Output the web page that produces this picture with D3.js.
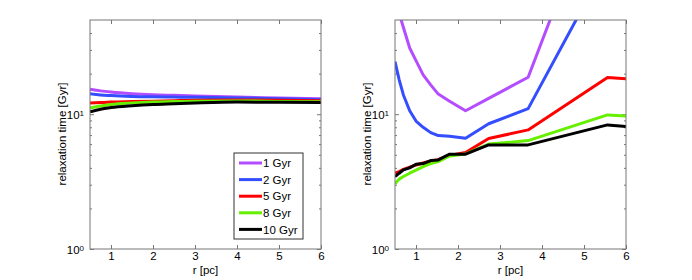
<!DOCTYPE html>
<html>
<head>
<meta charset="utf-8">
<script src="https://cdn.jsdelivr.net/npm/d3@7"></script>
<style>
  body { margin: 0; background: #fff; }
  text { font-family: "Liberation Sans", Arial, sans-serif; fill: #000; }
</style>
</head>
<body>
<div id="canvas"></div>
<script>
// series labels + colours (matlab-ish)
const ages = ["1 Gyr", "2 Gyr", "5 Gyr", "8 Gyr", "10 Gyr"];
const colors = ["#b34dff", "#334dff", "#ff0000", "#66f000", "#000000"];

// left panel: smooth curves
const rLeft = [0.5, 0.75, 1, 1.5, 2, 2.5, 3, 4, 5, 6];
const left1 = [15.3, 14.9, 14.6, 14.2, 13.95, 13.8, 13.65, 13.4, 13.2, 13.0];
const left2 = [14.2, 13.9, 13.75, 13.55, 13.45, 13.4, 13.35, 13.2, 13.0, 12.8];
const left5 = [12.1, 12.2, 12.3, 12.4, 12.5, 12.6, 12.7, 12.75, 12.7, 12.6];
const left8 = [11.1, 11.5, 11.8, 12.1, 12.3, 12.4, 12.5, 12.55, 12.45, 12.35];
const left10 = [10.4, 10.9, 11.2, 11.55, 11.8, 11.95, 12.1, 12.3, 12.25, 12.2];

// right panel: piecewise
const rRight = [0.5, 0.6, 0.7, 0.85, 1.0, 1.17, 1.35, 1.53, 1.8, 2.18, 2.73, 3.67, 5.56, 6.0];
const right1 = [80, 56, 44, 31, 25, 19.6, 16.5, 14.1, 12.5, 10.6, 13.1, 18.8, 650, 900];
const right2 = [24.6, 18, 13.9, 10.6, 8.9, 8.0, 7.3, 6.94, 6.85, 6.63, 8.5, 11.0, 135, 200];
const right5 = [3.65, 3.75, 3.9, 4.05, 4.2, 4.35, 4.5, 4.6, 4.95, 5.2, 6.6, 7.65, 18.7, 18.3];
const right8 = [3.05, 3.3, 3.45, 3.65, 3.85, 4.08, 4.3, 4.45, 4.9, 5.07, 6.0, 6.37, 9.88, 9.71];
const right10 = [3.44, 3.65, 3.86, 4.0, 4.25, 4.3, 4.53, 4.58, 5.05, 5.05, 5.92, 5.92, 8.33, 8.09];

const xTicks = [1, 2, 3, 4, 5, 6];
const yMajor = [1, 10];
const yMinor = [2, 3, 4, 5, 6, 7, 8, 9, 20, 30, 40];

const width = 692;
const height = 280;
const plotTop = 20, plotBottom = 249, pw = 231;
const fontSize = "11.5px";

const svg = d3.select("#canvas").append("svg")
  .attr("width", width)
  .attr("height", height);

const y = d3.scaleLog().domain([1, 50]).range([plotBottom, plotTop]);

function drawPanel(id, left, rs, series, curve) {
  const x = d3.scaleLinear().domain([0.5, 6]).range([left, left + pw]);
  const g = svg.append("g");

  g.append("clipPath").attr("id", id)
    .append("rect")
    .attr("x", left).attr("y", plotTop)
    .attr("width", pw).attr("height", plotBottom - plotTop);

  // ticks on all four sides, pointing in
  const axisColor = "#777";
  const xb = g.append("g")
    .attr("transform", `translate(0,${plotBottom})`)
    .call(d3.axisBottom(x).tickValues(xTicks).tickFormat(d3.format("d"))
      .tickSizeInner(-4).tickSizeOuter(0).tickPadding(3));
  xb.selectAll("text").style("font-size", fontSize).style("font-family", "Liberation Sans, Arial");
  g.append("g")
    .attr("transform", `translate(0,${plotTop})`)
    .call(d3.axisTop(x).tickValues(xTicks).tickSizeInner(-4).tickSizeOuter(0).tickFormat(""));

  const yl = g.append("g")
    .attr("transform", `translate(${left},0)`)
    .call(d3.axisLeft(y).tickValues(yMajor).tickSizeInner(-4).tickSizeOuter(0).tickFormat(""));
  g.append("g")
    .attr("transform", `translate(${left},0)`)
    .call(d3.axisLeft(y).tickValues(yMinor).tickSizeInner(-2).tickSizeOuter(0).tickFormat(""));
  g.append("g")
    .attr("transform", `translate(${left + pw},0)`)
    .call(d3.axisRight(y).tickValues(yMajor).tickSizeInner(-4).tickSizeOuter(0).tickFormat(""));
  g.append("g")
    .attr("transform", `translate(${left + pw},0)`)
    .call(d3.axisRight(y).tickValues(yMinor).tickSizeInner(-2).tickSizeOuter(0).tickFormat(""));

  g.selectAll(".domain").remove();
  g.selectAll(".tick line").attr("stroke", axisColor);

  // 10^n labels
  yl.selectAll(".tick text").each(function (d) {
    const t = d3.select(this)
      .attr("x", -6)
      .attr("dy", "0.4em")
      .style("font-size", fontSize)
      .style("font-family", "Liberation Sans, Arial");
    t.append("tspan").text("10");
    t.append("tspan").attr("dy", "-0.45em").style("font-size", "8px").text(Math.round(Math.log10(d)));
  });

  const line = d3.line()
    .x((d, i) => x(rs[i]))
    .y(d => y(d))
    .curve(curve);

  g.append("g")
    .attr("clip-path", `url(#${id})`)
    .selectAll("path")
    .data(series)
    .enter()
    .append("path")
    .attr("d", d => line(d))
    .attr("fill", "none")
    .attr("stroke", (d, i) => colors[i])
    .attr("stroke-width", 3)
    .attr("stroke-linejoin", "round");

  g.append("rect")
    .attr("x", left).attr("y", plotTop)
    .attr("width", pw).attr("height", plotBottom - plotTop)
    .attr("fill", "none")
    .attr("stroke", axisColor)
    .attr("stroke-width", 1);

  g.append("text")
    .attr("x", left + pw / 2)
    .attr("y", 274)
    .attr("text-anchor", "middle")
    .style("font-size", fontSize)
    .text("r [pc]");

  g.append("text")
    .attr("transform", `translate(${left - 24},134) rotate(-90)`)
    .attr("text-anchor", "middle")
    .style("font-size", fontSize)
    .text("relaxation time [Gyr]");

  return g;
}

const gl = drawPanel("clipL", 90, rLeft, [left1, left2, left5, left8, left10], d3.curveMonotoneX);
drawPanel("clipR", 395, rRight, [right1, right2, right5, right8, right10], d3.curveLinear);

// legend in left panel
const legend = gl.append("g").attr("transform", "translate(234,153)");
legend.append("rect")
  .attr("width", 69).attr("height", 86)
  .attr("fill", "#fff")
  .attr("stroke", "#333")
  .attr("stroke-width", 1);

const rows = legend.selectAll(".row")
  .data(ages)
  .enter()
  .append("g")
  .attr("transform", (d, i) => `translate(0,${10 + i * 16.6})`);

rows.append("line")
  .attr("x1", 5).attr("x2", 28)
  .attr("stroke", (d, i) => colors[i])
  .attr("stroke-width", 3);

rows.append("text")
  .attr("x", 29)
  .attr("dy", "0.37em")
  .style("font-size", fontSize)
  .text(d => d);
</script>
</body>
</html>
